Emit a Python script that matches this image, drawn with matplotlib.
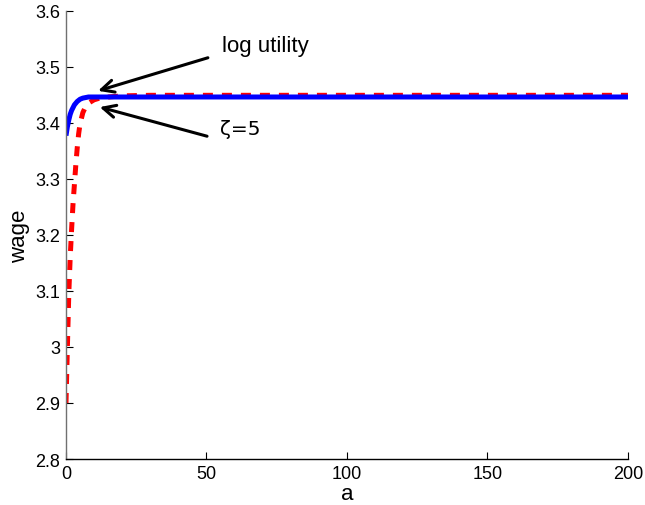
import matplotlib
matplotlib.use("Agg")
import matplotlib.pyplot as plt

plt.rcParams['font.family'] = ['Liberation Sans', 'DejaVu Sans']

# Data
a_zeta = [0, 0.5, 1, 1.5, 2, 2.5, 3, 3.5, 4, 4.5, 5, 6, 7, 8, 10, 12, 15, 20, 30, 200]
wage_zeta = [2.900, 3.000, 3.095, 3.160, 3.210, 3.255, 3.290, 3.325, 3.355, 3.380,
             3.398, 3.418, 3.429, 3.435, 3.441, 3.444, 3.446, 3.448, 3.449, 3.449]

a_log = [0, 0.5, 1, 1.5, 2, 3, 4, 5, 6, 8, 10, 200]
wage_log = [3.377, 3.393, 3.405, 3.415, 3.422, 3.432, 3.438, 3.442, 3.444, 3.446, 3.446, 3.446]

xticks = [0, 50, 100, 150, 200]
yticks = [2.8, 2.9, 3.0, 3.1, 3.2, 3.3, 3.4, 3.5, 3.6]
ytick_labels = ['2.8', '2.9', '3', '3.1', '3.2', '3.3', '3.4', '3.5', '3.6']

fig = plt.figure(figsize=(6.45, 5.06), dpi=100)
ax = fig.add_axes([0.1023, 0.0909, 0.8713, 0.8860])

ax.plot(a_zeta, wage_zeta, color='red', lw=3.6, dashes=(2.0, 1.8), solid_capstyle='butt')
ax.plot(a_log, wage_log, color='blue', lw=3.6, solid_capstyle='butt')

ax.set_xlim(0, 200)
ax.set_ylim(2.8, 3.6)
ax.set_xticks(xticks)
ax.set_xticklabels([str(t) for t in xticks])
ax.set_yticks(yticks)
ax.set_yticklabels(ytick_labels)
ax.tick_params(direction='in', length=5, width=0.8, labelsize=13, pad=4)

ax.spines['top'].set_visible(False)
ax.spines['right'].set_visible(False)
ax.spines['left'].set_color('#707070')
ax.spines['left'].set_linewidth(1.0)
ax.spines['bottom'].set_color('black')
ax.spines['bottom'].set_linewidth(1.0)

ax.set_xlabel('a', fontsize=16, labelpad=1)
ax.set_ylabel('wage', fontsize=16, labelpad=4)

arrow_kw = dict(arrowstyle='->,head_length=0.45,head_width=0.22', lw=2.2, color='black',
                shrinkA=0, shrinkB=0, mutation_scale=20)
ax.annotate('', xy=(11.4, 3.457), xytext=(50.5, 3.516), arrowprops=arrow_kw)
ax.annotate('', xy=(12.0, 3.428), xytext=(50.2, 3.376), arrowprops=arrow_kw)
ax.text(55.5, 3.537, 'log utility', fontsize=16, va='center', ha='left')
ax.text(54.8, 3.389, 'ζ=5', fontsize=14.5, va='center', ha='left', family=['DejaVu Sans'])

fig.savefig('out.png', dpi=100)
